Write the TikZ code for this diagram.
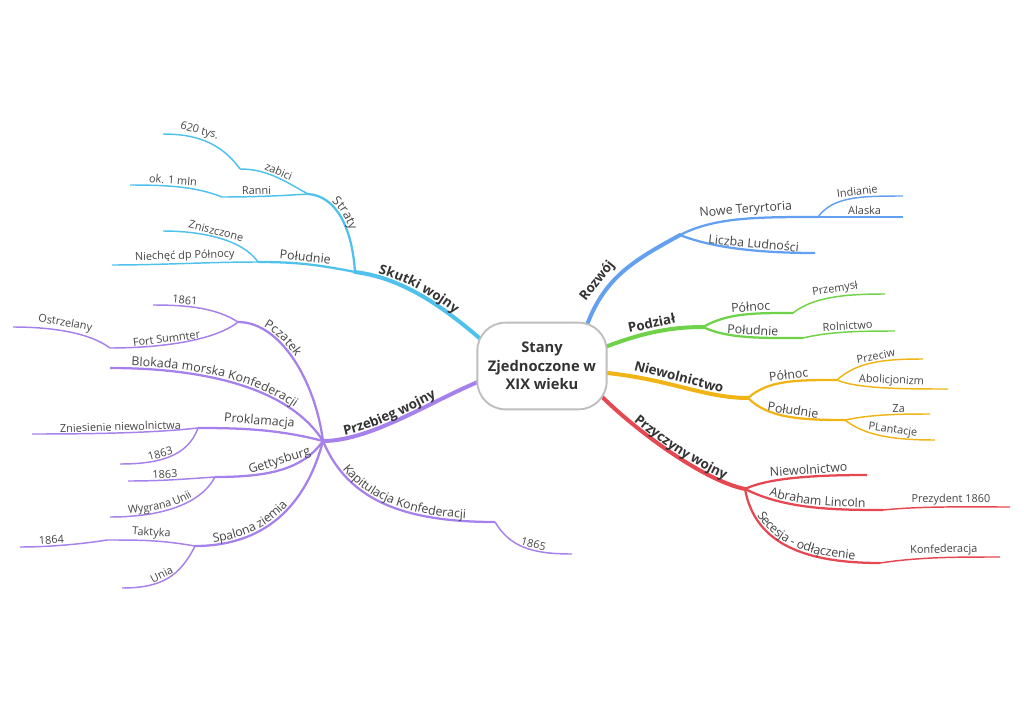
\documentclass[tikz,border=0pt]{standalone}
\usepackage{fontspec}
\setmainfont{Open Sans}
\usetikzlibrary{backgrounds,decorations.text}
\definecolor{skutki}{RGB}{78,194,236}
\definecolor{przebieg}{RGB}{166,128,235}
\definecolor{rozwoj}{RGB}{100,160,240}
\definecolor{podzial}{RGB}{112,210,72}
\definecolor{niewol}{RGB}{240,180,22}
\definecolor{przyczyny}{RGB}{230,72,82}
\definecolor{txtmain}{RGB}{51,51,51}
\definecolor{txtgray}{RGB}{68,68,68}
\definecolor{rootgray}{RGB}{190,190,190}
\tikzstyle{mainbr} = [line width=3pt, line cap=round, shorten <=-8pt]
\tikzstyle{subbr} = [line width=1.7pt]
\tikzstyle{leafbr} = [line width=1.1pt]
\tikzstyle{lblone} = [sloped, above, inner sep=1.5pt, text=txtmain, font=\bfseries\fontsize{10}{12}\selectfont]
\tikzstyle{lbltwo} = [sloped, above, inner sep=1pt, text=txtgray, font=\fontsize{9.3}{11}\selectfont]
\tikzstyle{lblthree} = [sloped, above, inner sep=1pt, text=txtgray, font=\fontsize{8.2}{10}\selectfont]
% text that follows a bent branch
\tikzset{
  alongone/.style 2 args={postaction={decorate, decoration={text along path, text align={left indent=#1}, raise=2.5pt, text color=txtmain, text={|\bfseries\fontsize{10}{12}\selectfont|#2}}}},
  alongonerev/.style 2 args={postaction={decorate, decoration={text along path, reverse path=true, text align={left indent=#1}, raise=2.5pt, text color=txtmain, text={|\bfseries\fontsize{10}{12}\selectfont|#2}}}},
  alongtwo/.style 2 args={postaction={decorate, decoration={text along path, text align={left indent=#1}, raise=2pt, text color=txtgray, text={|\fontsize{9.3}{11}\selectfont|#2}}}},
  alongtworev/.style 2 args={postaction={decorate, decoration={text along path, reverse path=true, text align={left indent=#1}, raise=2pt, text color=txtgray, text={|\fontsize{9.3}{11}\selectfont|#2}}}},
  alongthreerev/.style 2 args={postaction={decorate, decoration={text along path, reverse path=true, text align={left indent=#1}, raise=2pt, text color=txtgray, text={|\fontsize{8.2}{10}\selectfont|#2}}}},
}

\begin{document}
\begin{tikzpicture}[x=0.75pt, y=-0.75pt]
\useasboundingbox (0,0) rectangle (1024,724);
% centre
\node [draw=rootgray, line width=1.4pt, fill=white, rounded corners=21pt, minimum width=97pt, minimum height=65pt, align=center, text=txtmain, font=\bfseries\fontsize{11}{14}\selectfont] (root) at (542,366) {Stany\\Zjednoczone w\\XIX wieku};
% junctions and ends
\coordinate (sk) at (355,272);
\coordinate (skstr) at (308,194);
\coordinate (skzab) at (240,169);
\coordinate (sk620) at (163,134);
\coordinate (skran) at (222,197);
\coordinate (skmln) at (130,185);
\coordinate (skpol) at (258,262);
\coordinate (skzni) at (163,231);
\coordinate (sknie) at (112,265);
\coordinate (pw) at (323,441);
\coordinate (pwpcz) at (238,322);
\coordinate (pw1861) at (153,305);
\coordinate (pwfort) at (110,348);
\coordinate (pwostr) at (13,327);
\coordinate (pwblok) at (110,368);
\coordinate (pwprok) at (198,428);
\coordinate (pwzni) at (32,434);
\coordinate (pw1863a) at (120,464);
\coordinate (pwget) at (215,477);
\coordinate (pw1863b) at (128,481);
\coordinate (pwwyg) at (110,517);
\coordinate (pwspal) at (195,546);
\coordinate (pwtak) at (107,540);
\coordinate (pw1864) at (20,547);
\coordinate (pwunia) at (122,588);
\coordinate (pwkap) at (495,522);
\coordinate (pw1865) at (572,554);
\coordinate (rz) at (680,235);
\coordinate (rznowe) at (818,217);
\coordinate (rzind) at (903,196);
\coordinate (rzala) at (903,217);
\coordinate (rzlicz) at (815,253);
\coordinate (pd) at (703,327);
\coordinate (pdpoln) at (793,313);
\coordinate (pdprz) at (885,294);
\coordinate (pdpol) at (803,338);
\coordinate (pdrol) at (895,331);
\coordinate (nw) at (748,398);
\coordinate (nwpoln) at (837,380);
\coordinate (nwprz) at (923,359);
\coordinate (nwabo) at (948,389);
\coordinate (nwpol) at (845,420);
\coordinate (nwza) at (930,414);
\coordinate (nwpla) at (935,440);
\coordinate (pc) at (745,489);
\coordinate (pcnie) at (867,475);
\coordinate (pcabr) at (883,510);
\coordinate (pcprez) at (1010,507);
\coordinate (pcsec) at (880,563);
\coordinate (pckon) at (1000,557);
% main branches
\begin{scope}[on background layer]
\draw [skutki, mainbr, alongonerev={17pt}{Skutki wojny}] (root.155) .. controls +(-32,-28) and +(48,6) .. (sk);
\draw [przebieg, mainbr, alongonerev={17pt}{Przebieg wojny}] (root.194) .. controls +(-40,15) and +(50,0) .. (pw);
\draw [rozwoj, mainbr] (root.44) .. controls +(15,-45) and +(-45,25) .. (rz) node [lblone, pos=.3] (lrozwoj) {Rozwój};
\draw [podzial, mainbr] (root.17) .. controls +(30,-12) and +(-35,0) .. (pd) node [lblone, pos=.5] (lpodzial) {Podział};
\draw [niewol, mainbr] (root.354) .. controls +(60,5) and +(-45,0) .. (nw) node [lblone, pos=.45] (lniewol) {Niewolnictwo};
\draw [przyczyny, mainbr, alongone={24pt}{Przyczyny wojny}] (root.331) .. controls +(30,30) and +(-40,-8) .. (pc);
\end{scope}
% Skutki wojny
\draw [skutki, subbr, alongtworev={18pt}{Straty}] (sk) .. controls +(-3,-45) and +(28,2) .. (skstr);
\draw [skutki, leafbr] (skstr) .. controls +(-22,-12) and +(28,0) .. (skzab) node [lblthree, pos=.5] (lzabici) {zabici};
\draw [skutki, leafbr] (skzab) .. controls +(-20,-28) and +(30,0) .. (sk620) node [lblthree, pos=.6] (l620) {620 tys.};
\draw [skutki, leafbr] (skstr) .. controls +(-30,2) and +(30,0) .. (skran) node [lblthree, pos=.6] (lranni) {Ranni};
\draw [skutki, leafbr] (skran) .. controls +(-25,-10) and +(40,0) .. (skmln) node [lblthree, pos=.6] (lmln) {ok. 1 mln};
\draw [skutki, subbr] (sk) .. controls +(-40,-8) and +(35,0) .. (skpol) node [lbltwo, pos=.5] (lskpol) {Południe};
\draw [skutki, leafbr] (skpol) .. controls +(-15,-22) and +(40,0) .. (skzni) node [lblthree, pos=.55] (lzni) {Zniszczone};
\draw [skutki, leafbr] (skpol) .. controls +(-50,0) and +(50,0) .. (sknie) node [lblthree, pos=.5] (lnie) {Niechęć dp Północy};
% Przebieg wojny
\draw [przebieg, subbr, alongtworev={19pt}{Pczatek}] (pw) .. controls +(-8,-61) and +(42,0) .. (pwpcz);
\draw [przebieg, leafbr] (pwpcz) .. controls +(-22,-14) and +(35,0) .. (pw1861) node [lblthree, pos=.68] (l1861) {1861};
\draw [przebieg, leafbr] (pwpcz) .. controls +(-25,20) and +(45,0) .. (pwfort) node [lblthree, pos=.6] (lfort) {Fort Sumnter};
\draw [przebieg, leafbr] (pwfort) .. controls +(-20,-15) and +(40,0) .. (pwostr) node [lblthree, pos=.55] (lostr) {Ostrzelany};
\draw [przebieg, subbr, alongtworev={16pt}{Blokada morska Konfederacji}] (pw) .. controls +(-35,-55) and +(90,0) .. (pwblok);
\draw [przebieg, subbr] (pw) .. controls +(-45,-12) and +(40,0) .. (pwprok) node [lbltwo, pos=.5] (lprok) {Proklamacja};
\draw [przebieg, leafbr] (pwprok) .. controls +(-45,5) and +(60,0) .. (pwzni) node [lblthree, pos=.5] (lzniew) {Zniesienie niewolnictwa};
\draw [przebieg, leafbr] (pwprok) .. controls +(-10,28) and +(40,0) .. (pw1863a) node [lblthree, pos=.6] (l1863a) {1863};
\draw [przebieg, subbr] (pw) .. controls +(-20,28) and +(55,0) .. (pwget) node [lbltwo, pos=.5] (lget) {Gettysburg};
\draw [przebieg, leafbr] (pwget) .. controls +(-30,2) and +(35,0) .. (pw1863b) node [lblthree, pos=.6] (l1863b) {1863};
\draw [przebieg, leafbr, alongthreerev={14pt}{Wygrana Unii}] (pwget) .. controls +(-15,28) and +(50,0) .. (pwwyg);
\draw [przebieg, subbr, alongtworev={14pt}{Spalona ziemia}] (pw) .. controls +(-20,75) and +(60,0) .. (pwspal);
\draw [przebieg, leafbr] (pwspal) .. controls +(-35,-6) and +(35,0) .. (pwtak) node [lblthree, pos=.5] (ltak) {Taktyka};
\draw [przebieg, leafbr] (pwtak) .. controls +(-25,4) and +(30,0) .. (pw1864) node [lblthree, pos=.65] (l1864) {1864};
\draw [przebieg, leafbr] (pwspal) .. controls +(-15,30) and +(40,0) .. (pwunia) node [lblthree, pos=.55] (lunia) {Unia};
\draw [przebieg, subbr, alongtwo={26pt}{Kapitulacja Konfederacji}] (pw) .. controls +(25,60) and +(-90,0) .. (pwkap);
\draw [przebieg, leafbr] (pwkap) .. controls +(15,25) and +(-40,0) .. (pw1865) node [lblthree, pos=.6] (l1865) {1865};
% Rozwoj
\draw [rozwoj, subbr] (rz) .. controls +(35,-18) and +(-60,0) .. (rznowe) node [lbltwo, pos=.55] (lnowe) {Nowe Teryrtoria};
\draw [rozwoj, leafbr] (rznowe) .. controls +(15,-20) and +(-45,0) .. (rzind) node [lblthree, pos=.6] (lind) {Indianie};
\draw [rozwoj, leafbr] (rznowe) .. controls +(30,0) and +(-30,0) .. (rzala) node [lblthree, pos=.55] (lala) {Alaska};
\draw [rozwoj, subbr] (rz) .. controls +(30,12) and +(-60,0) .. (rzlicz) node [lbltwo, pos=.62] (llicz) {Liczba Ludności};
% Podzial
\draw [podzial, subbr] (pd) .. controls +(25,-14) and +(-40,0) .. (pdpoln) node [lbltwo, pos=.6] (lpdpoln) {Północ};
\draw [podzial, leafbr] (pdpoln) .. controls +(20,-16) and +(-40,0) .. (pdprz) node [lblthree, pos=.55] (lprzem) {Przemysł};
\draw [podzial, subbr] (pd) .. controls +(25,12) and +(-40,0) .. (pdpol) node [lbltwo, pos=.55] (lpdpol) {Południe};
\draw [podzial, leafbr] (pdpol) .. controls +(25,-6) and +(-40,0) .. (pdrol) node [lblthree, pos=.55] (lrol) {Rolnictwo};
% Niewolnictwo
\draw [niewol, subbr] (nw) .. controls +(20,-18) and +(-40,0) .. (nwpoln) node [lbltwo, pos=.55] (lnwpoln) {Północ};
\draw [niewol, leafbr] (nwpoln) .. controls +(20,-18) and +(-40,0) .. (nwprz) node [lblthree, pos=.55] (lprzec) {Przeciw};
\draw [niewol, leafbr] (nwpoln) .. controls +(20,9) and +(-40,0) .. (nwabo) node [lblthree, pos=.55] (labo) {Abolicjonizm};
\draw [niewol, subbr] (nw) .. controls +(20,20) and +(-45,0) .. (nwpol) node [lbltwo, pos=.55] (lnwpol) {Południe};
\draw [niewol, leafbr] (nwpol) .. controls +(25,-5) and +(-40,0) .. (nwza) node [lblthree, pos=.7] (lza) {Za};
\draw [niewol, leafbr] (nwpol) .. controls +(20,16) and +(-40,0) .. (nwpla) node [lblthree, pos=.6] (lpla) {PLantacje};
% Przyczyny wojny
\draw [przyczyny, subbr] (pc) .. controls +(25,-12) and +(-45,0) .. (pcnie) node [lbltwo, pos=.58] (lpcnie) {Niewolnictwo};
\draw [przyczyny, subbr, alongtwo={19pt}{Abraham Lincoln}] (pc) .. controls +(40,20) and +(-50,0) .. (pcabr);
\draw [przyczyny, leafbr] (pcabr) .. controls +(40,-4) and +(-45,0) .. (pcprez) node [lblthree, pos=.55] (lprez) {Prezydent 1860};
\draw [przyczyny, subbr, alongtwo={22pt}{Secesja - odłączenie}] (pc) .. controls +(10,55) and +(-75,0) .. (pcsec);
\draw [przyczyny, leafbr] (pcsec) .. controls +(40,-6) and +(-45,0) .. (pckon) node [lblthree, pos=.55] (lkon) {Konfederacja};
\end{tikzpicture}
\end{document}
